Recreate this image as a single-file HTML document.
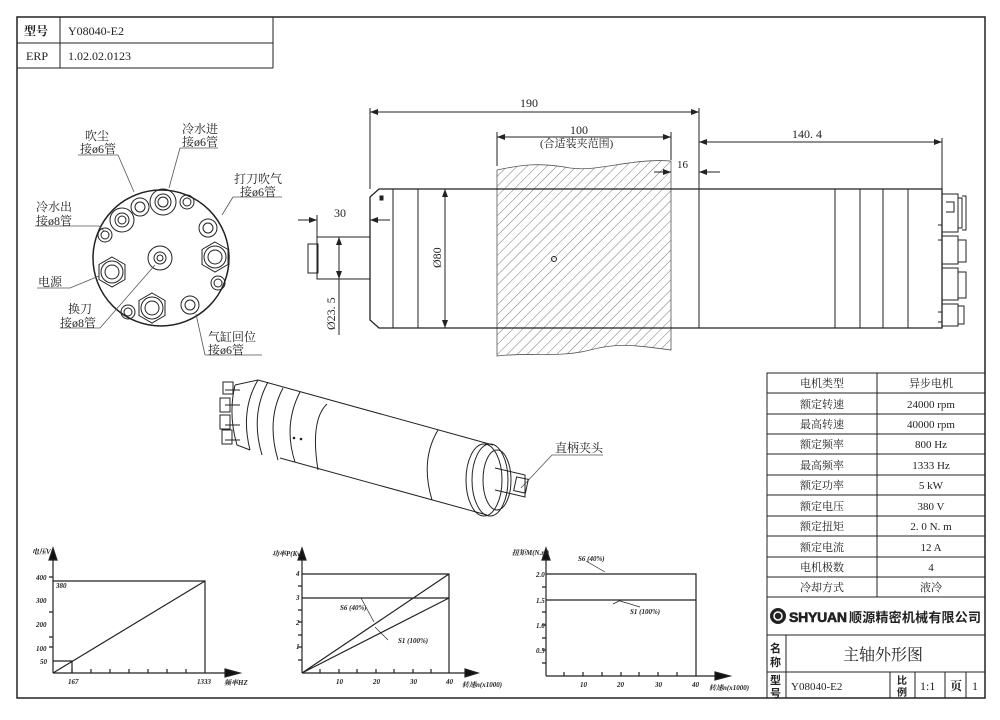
<!DOCTYPE html>
<html><head><meta charset="utf-8"><style>
body{margin:0;background:#fff}
svg{display:block}
text{font-family:"Liberation Serif","Noto Serif CJK SC",serif;fill:#222}
.s{font-family:"Liberation Sans","Noto Sans CJK SC",sans-serif}
</style></head><body>
<svg width="1000" height="720" viewBox="0 0 1000 720" xmlns="http://www.w3.org/2000/svg">
<defs>
<pattern id="h" width="7" height="7" patternUnits="userSpaceOnUse" patternTransform="rotate(45)"><line x1="0" y1="0" x2="0" y2="7" stroke="#555" stroke-width="0.8"/></pattern>
<marker id="a" markerWidth="8" markerHeight="6" refX="8" refY="3" orient="auto-start-reverse"><path d="M0,0 L8,3 L0,6z" fill="#222"/></marker>
</defs>
<g fill="none" stroke="#222" stroke-width="1">
<!-- frame -->
<rect x="17" y="17" width="968" height="681" stroke-width="1.5"/>
<path d="M17 43H273M17 68H273M273 17V68M60 17V68"/>
<!-- spec table -->
<rect x="767" y="373" width="218" height="325"/>
<path d="M767 393H985M767 414H985M767 434H985M767 454H985M767 475H985M767 495H985M767 516H985M767 536H985M767 557H985M767 577H985M767 597H985M767 635H985M767 672H985M877 373V597M786 635V698M890 672V698M915 672V698M945 672V698M966 672V698"/>
<!-- side view -->
<path d="M497 170 C520 165 540 162 570 168 C600 172 630 158 671 161 V350 C640 346 620 342 590 350 C560 358 530 352 497 356 Z" fill="url(#h)" stroke="#555" stroke-width="0.8"/>
<path d="M379 189H942V328H379L370 320V197Z" stroke-width="1.3"/>
<path d="M393 189V328M418 189V328M699 189V328M835 189V328M860 189V328M883 189V328M908 189V328"/>
<rect x="317" y="237" width="53" height="42"/>
<rect x="308" y="244" width="10" height="29"/>
<circle cx="554" cy="259" r="2.5"/>
<rect x="380" y="196" width="3" height="4" fill="#222"/>
<path d="M942 194H958V232H942M958 198H962V228H958M962 196H966V230H962M946 202H954V212H946M942 236H958V264H942M958 240H966V262H958M942 268H958V300H942M958 272H966V298H958M942 304H958V326H942M958 306H964V324H958"/>
<path d="M938 225H942V240H938M938 312H942V322H938"/>
<!-- dims -->
<path d="M370 108V189M699 108V189M942 138V189M497 132V166M671 132V160"/>
<path d="M370 112H699" marker-start="url(#a)" marker-end="url(#a)"/>
<path d="M497 137H671" marker-start="url(#a)" marker-end="url(#a)"/>
<path d="M699 142H942" marker-start="url(#a)" marker-end="url(#a)"/>
<path d="M654 172H671" marker-end="url(#a)"/><path d="M720 172H699" marker-end="url(#a)"/>
<path d="M298 220H317" marker-end="url(#a)"/><path d="M390 220H370" marker-end="url(#a)"/>
<path d="M317 215V237"/>
<path d="M445 189V328" marker-start="url(#a)" marker-end="url(#a)"/>
<path d="M339 237V279" marker-start="url(#a)" marker-end="url(#a)"/><path d="M339 279V335"/>
<!-- end view -->
<circle cx="161" cy="258" r="68" stroke-width="1.5"/>
<circle cx="163" cy="202" r="13"/><circle cx="163" cy="202" r="8"/><circle cx="163" cy="202" r="5"/>
<circle cx="187" cy="202" r="7"/><circle cx="187" cy="202" r="4"/>
<circle cx="140" cy="207" r="9"/><circle cx="140" cy="207" r="5"/>
<circle cx="122" cy="220" r="12"/><circle cx="122" cy="220" r="7"/><circle cx="122" cy="220" r="4"/>
<circle cx="105" cy="235" r="7"/><circle cx="105" cy="235" r="4"/>
<polygon points="112,257 125,264.5 125,279.5 112,287 99,279.5 99,264.5"/><circle cx="112" cy="272" r="11"/><circle cx="112" cy="272" r="7"/>
<circle cx="160" cy="258" r="12"/><circle cx="160" cy="258" r="6"/><circle cx="160" cy="258" r="3"/>
<circle cx="208" cy="228" r="9"/><circle cx="208" cy="228" r="5"/>
<polygon points="215,242 228,249.5 228,264.5 215,272 202,264.5 202,249.5"/><circle cx="215" cy="257" r="11"/><circle cx="215" cy="257" r="7"/>
<circle cx="218" cy="283" r="7"/><circle cx="218" cy="283" r="4"/>
<polygon points="152,293 165,300.5 165,315.5 152,323 139,315.5 139,300.5"/><circle cx="152" cy="308" r="11"/><circle cx="152" cy="308" r="7"/>
<circle cx="128" cy="312" r="7"/><circle cx="128" cy="312" r="4"/>
<circle cx="190" cy="305" r="9"/><circle cx="190" cy="305" r="5"/>
<g stroke="#555" stroke-width="0.8">
<path d="M78 155H118L134 192M180 148H218M180 148L169 188M233 197H282M233 197L222 215M35 226H99L104 231M37 288H70L99 276M60 328H100L155 265M205 355H262M205 355L196 314"/>
<path d="M552 455H603M552 455L521 488"/>
</g>
<!-- iso view -->
<path d="M258 380L493 445M280 458L487 515"/>
<ellipse cx="490" cy="480" rx="18" ry="36"/>
<ellipse cx="484" cy="480" rx="18" ry="36"/>
<ellipse cx="497" cy="480" rx="14" ry="30"/>
<path d="M495 468L525 475V497L495 490"/>
<rect x="515" y="478" width="12" height="14" transform="rotate(12 521 485)"/>
<path d="M327 404Q310 420 318 470M258 380Q240 410 250 450M268 382Q250 415 262 455M283 388Q266 420 278 460M300 392Q283 425 295 462M438 430Q420 460 432 500"/>
<path d="M235 385Q228 415 237 445L250 450M235 385L258 380M225 390H240M225 405H240M225 425H240M225 440H240"/>
<rect x="223" y="382" width="10" height="12"/><rect x="220" y="398" width="10" height="14"/><rect x="220" y="415" width="10" height="14"/><rect x="222" y="430" width="10" height="14"/>
<!-- charts -->
<g stroke-width="1.2">
<path d="M53 673H225M53 673V556"/>
<path d="M225 669L240 673L225 677z" fill="#111"/><path d="M49 560L53 548L57 560z" fill="#111"/>
<path d="M53 673L205 581M53 581H205V673M53 661H72V673M49 577H53M49 612H53M49 647H53M49 637H53"/>
<path d="M72 673V669M91 673V669M110 673V669M129 673V669M148 673V669M167 673V669M186 673V669"/>
<path d="M302 673H465M302 673V556"/>
<path d="M465 669L478 673L465 677z" fill="#111"/><path d="M298 560L302 548L306 560z" fill="#111"/>
<path d="M302 673L449 574M302 673L449 598M302 574H449V673M302 598H449"/>
<path d="M298 586H302M298 610H302M298 622H302M298 635H302M298 647H302M298 660H302M320 673V669M339 673V669M357 673V669M376 673V669M394 673V669M413 673V669M431 673V669"/>
<path d="M546 676H715M546 676V556"/>
<path d="M715 672L730 676L715 680z" fill="#111"/><path d="M542 560L546 548L550 560z" fill="#111"/>
<path d="M546 574H696V676M546 600H696M542 587H546M542 612H546M542 625H546M542 638H546M542 650H546M542 663H546M564 676V672M583 676V672M602 676V672M621 676V672M639 676V672M658 676V672M677 676V672"/>
</g>
<g stroke-width="0.7"><path d="M374 622L361 598M375 627L388 640M613 604L621 600M586 561L605 572M640 607L620 601"/></g>
</g>
<g class="s" font-size="12">
<text x="24" y="35" font-weight="bold">型号</text><text x="68" y="35">Y08040-E2</text>
<text x="26" y="60">ERP</text><text x="68" y="60">1.02.02.0123</text>
</g>
<g font-size="12">
<text x="520" y="107">190</text><text x="570" y="134">100</text>
<text x="540" y="147" font-size="11">(合适装夹范围)</text>
<text x="792" y="138">140. 4</text><text x="677" y="168" font-size="11">16</text>
<text x="334" y="217">30</text>
<text transform="translate(441 268) rotate(-90)">Ø80</text>
<text transform="translate(335 330) rotate(-90)">Ø23. 5</text>
<text x="85" y="140">吹尘</text><text x="80" y="153">接ø6管</text>
<text x="182" y="133">冷水进</text><text x="182" y="146">接ø6管</text>
<text x="234" y="183">打刀吹气</text><text x="240" y="196">接ø6管</text>
<text x="36" y="211">冷水出</text><text x="36" y="225">接ø8管</text>
<text x="38" y="286">电源</text>
<text x="68" y="313">换刀</text><text x="60" y="327">接ø8管</text>
<text x="208" y="341">气缸回位</text><text x="208" y="354">接ø6管</text>
<text x="555" y="452">直柄夹头</text>
</g>
<g font-size="11" fill="#333">
<text x="822" y="387" text-anchor="middle">电机类型</text><text x="931" y="387" text-anchor="middle">异步电机</text>
<text x="822" y="408" text-anchor="middle">额定转速</text><text x="931" y="408" text-anchor="middle">24000 rpm</text>
<text x="822" y="428" text-anchor="middle">最高转速</text><text x="931" y="428" text-anchor="middle">40000 rpm</text>
<text x="822" y="448" text-anchor="middle">额定频率</text><text x="931" y="448" text-anchor="middle">800 Hz</text>
<text x="822" y="469" text-anchor="middle">最高频率</text><text x="931" y="469" text-anchor="middle">1333 Hz</text>
<text x="822" y="489" text-anchor="middle">额定功率</text><text x="931" y="489" text-anchor="middle">5 kW</text>
<text x="822" y="510" text-anchor="middle">额定电压</text><text x="931" y="510" text-anchor="middle">380 V</text>
<text x="822" y="530" text-anchor="middle">额定扭矩</text><text x="931" y="530" text-anchor="middle">2. 0 N. m</text>
<text x="822" y="551" text-anchor="middle">额定电流</text><text x="931" y="551" text-anchor="middle">12 A</text>
<text x="822" y="571" text-anchor="middle">电机极数</text><text x="931" y="571" text-anchor="middle">4</text>
<text x="822" y="591" text-anchor="middle">冷却方式</text><text x="931" y="591" text-anchor="middle">液冷</text>
</g>
<circle cx="778" cy="616" r="8" fill="#222"/><circle cx="778" cy="616" r="4" fill="none" stroke="#fff" stroke-width="1.5"/>
<text class="s" x="789" y="622" font-size="14" font-weight="bold" fill="#666" stroke="#222" stroke-width="0.6" textLength="58">SHYUAN</text>
<text class="s" x="849" y="622" font-size="13" font-weight="bold" textLength="132">顺源精密机械有限公司</text>
<text class="s" x="770" y="652" font-size="11" font-weight="bold">名</text><text class="s" x="770" y="666" font-size="11" font-weight="bold">称</text>
<text x="883" y="660" font-size="16" text-anchor="middle">主轴外形图</text>
<text class="s" x="770" y="684" font-size="11" font-weight="bold">型</text><text class="s" x="770" y="697" font-size="11" font-weight="bold">号</text>
<text x="791" y="690" font-size="11" font-family="Liberation Mono">Y08040-E2</text>
<text class="s" x="897" y="684" font-size="10" font-weight="bold">比</text><text class="s" x="897" y="696" font-size="10" font-weight="bold">例</text>
<text x="920" y="690" font-size="12">1:1</text><text x="950" y="690" font-size="12" font-weight="bold">页</text><text x="972" y="690" font-size="12">1</text>
<g class="s" font-size="7" font-style="italic" font-weight="bold">
<text x="32" y="554">电压V</text><text x="36" y="580">400</text><text x="56" y="588">380</text><text x="36" y="603">300</text><text x="36" y="627">200</text><text x="36" y="651">100</text><text x="40" y="664">50</text>
<text x="68" y="684">167</text><text x="197" y="684">1333</text><text x="224" y="685">频率HZ</text>
<text x="272" y="556">功率P(Kw)</text><text x="296" y="576">4</text><text x="296" y="600">3</text><text x="296" y="625">2</text><text x="296" y="649">1</text>
<text x="336" y="684">10</text><text x="373" y="684">20</text><text x="410" y="684">30</text><text x="446" y="684">40</text><text x="462" y="687">转速n(x1000)</text>
<text x="340" y="610">S6 (40%)</text><text x="398" y="643">S1 (100%)</text>
<text x="512" y="555">扭矩M(N.m)</text><text x="536" y="577">2.0</text><text x="536" y="603">1.5</text><text x="536" y="628">1.0</text><text x="536" y="653">0.5</text>
<text x="580" y="687">10</text><text x="617" y="687">20</text><text x="655" y="687">30</text><text x="692" y="687">40</text><text x="709" y="690">转速n(x1000)</text>
<text x="578" y="561">S6 (40%)</text><text x="630" y="614">S1 (100%)</text>
</g>
<circle cx="294" cy="438" r="1.3" fill="#222"/><circle cx="301" cy="439" r="1.3" fill="#222"/>
</svg>
</body></html>
